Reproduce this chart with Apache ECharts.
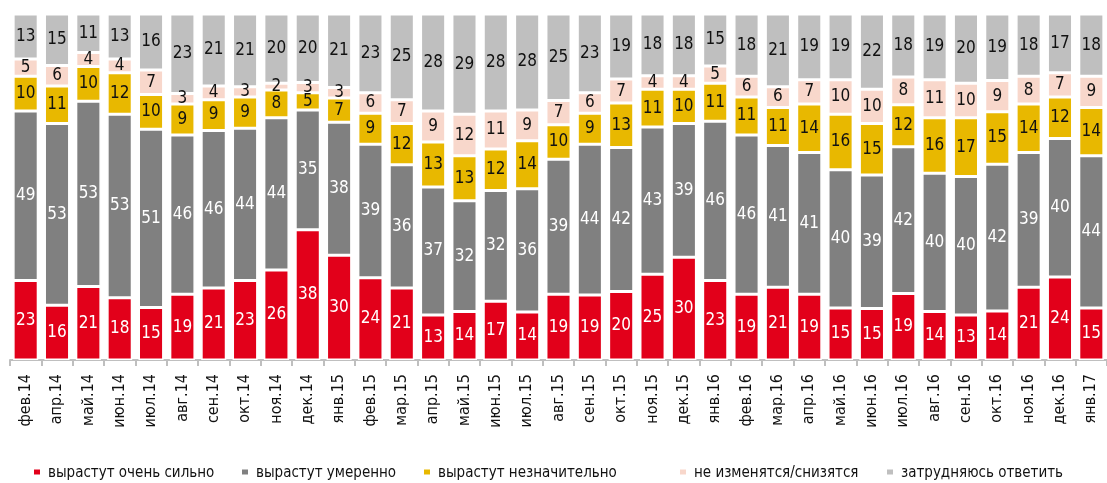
<!DOCTYPE html>
<html>
<head>
<meta charset="utf-8">
<script src="https://cdn.jsdelivr.net/npm/echarts@6/dist/echarts.min.js"></script>
<style>
  html, body { margin: 0; padding: 0; background: #fff; }
  #chart { width: 1107px; height: 483px; }
</style>
</head>
<body>
<div id="chart"></div>
<script>
const months = ['фев.14', 'апр.14', 'май.14', 'июн.14', 'июл.14', 'авг.14', 'сен.14', 'окт.14', 'ноя.14', 'дек.14',
  'янв.15', 'фев.15', 'мар.15', 'апр.15', 'май.15', 'июн.15', 'июл.15', 'авг.15', 'сен.15', 'окт.15', 'ноя.15', 'дек.15',
  'янв.16', 'фев.16', 'мар.16', 'апр.16', 'май.16', 'июн.16', 'июл.16', 'авг.16', 'сен.16', 'окт.16', 'ноя.16', 'дек.16',
  'янв.17']

const strong = [23, 16, 21, 18, 15, 19, 21, 23, 26, 38, 30, 24, 21, 13, 14, 17, 14, 19, 19, 20, 25, 30, 23, 19, 21, 19, 15, 15, 19, 14, 13, 14, 21, 24, 15]
const moderate = [49, 53, 53, 53, 51, 46, 46, 44, 44, 35, 38, 39, 36, 37, 32, 32, 36, 39, 44, 42, 43, 39, 46, 46, 41, 41, 40, 39, 42, 40, 40, 42, 39, 40, 44]
const slight = [10, 11, 10, 12, 10, 9, 9, 9, 8, 5, 7, 9, 12, 13, 13, 12, 14, 10, 9, 13, 11, 10, 11, 11, 11, 14, 16, 15, 12, 16, 17, 15, 14, 12, 14]
const noChange = [5, 6, 4, 4, 7, 3, 4, 3, 2, 3, 3, 6, 7, 9, 12, 11, 9, 7, 6, 7, 4, 4, 5, 6, 6, 7, 10, 10, 8, 11, 10, 9, 8, 7, 9]
const hardToSay = [13, 15, 11, 13, 16, 23, 21, 21, 20, 20, 21, 23, 25, 28, 29, 28, 28, 25, 23, 19, 18, 18, 15, 18, 21, 19, 19, 22, 18, 19, 20, 19, 18, 17, 18]

const seriesDefs = [
  { name: 'вырастут очень сильно', values: strong, color: '#e2001a', text: '#fff', legendX: 25 },
  { name: 'вырастут умеренно', values: moderate, color: '#808080', text: '#fff', legendX: 233 },
  { name: 'вырастут незначительно', values: slight, color: '#e8b800', text: '#111', legendX: 415 },
  { name: 'не изменятся/снизятся', values: noChange, color: '#f8d7cb', text: '#111', legendX: 671 },
  { name: 'затрудняюсь ответить', values: hardToSay, color: '#bfbfbf', text: '#111', legendX: 878 }
]

// bars are drawn as 100% stacks, labels show the survey figures
const totals = months.map((m, i) => seriesDefs.reduce((s, d) => s + d.values[i], 0))

const font = '"DejaVu Sans Condensed", "Liberation Sans Narrow", sans-serif'
const marker = 'path://M2,0 L10,0 L10,7 L2,7 Z M0,9 L12,9 L12,10 L0,10 Z'

const chart = echarts.init(document.getElementById('chart'))
chart.setOption({
  animation: false,
  grid: { left: 10, right: -6, top: 14, bottom: 123, containLabel: false },
  legend: seriesDefs.map(d => ({
    left: d.legendX,
    top: 461,
    itemWidth: 12,
    itemHeight: 10,
    icon: marker,
    textStyle: { fontFamily: font, fontSize: 15, color: '#111' },
    data: [d.name]
  })),
  xAxis: {
    type: 'category',
    data: months,
    axisLine: { lineStyle: { color: '#bfbfbf', width: 2 } },
    axisTick: { show: true, length: 6, lineStyle: { color: '#bfbfbf', width: 2 } },
    axisLabel: { rotate: 90, margin: 14, fontFamily: font, fontSize: 16, color: '#111', interval: 0 }
  },
  yAxis: { type: 'value', min: 0, max: 100, show: false, splitLine: { show: false } },
  series: seriesDefs.map(d => ({
    name: d.name,
    type: 'bar',
    stack: 'all',
    barWidth: '80%',
    itemStyle: { color: d.color, borderColor: '#fff', borderWidth: 1.5 },
    label: {
      show: true,
      position: 'inside',
      fontFamily: font,
      fontSize: 17,
      color: d.text,
      formatter: p => d.values[p.dataIndex]
    },
    data: d.values.map((v, i) => v / totals[i] * 100)
  }))
})
</script>
</body>
</html>
